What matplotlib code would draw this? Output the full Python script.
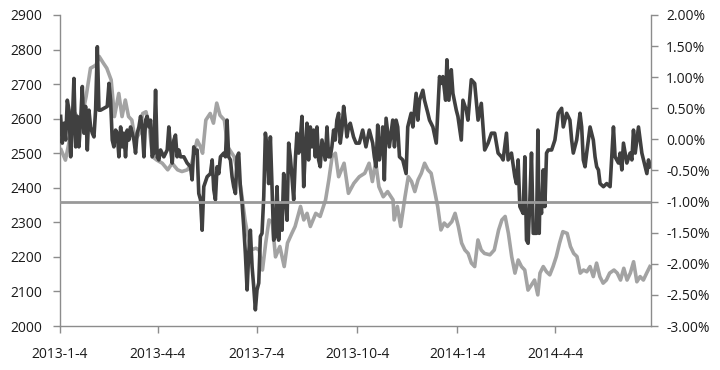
import matplotlib
matplotlib.use("Agg")
import matplotlib.pyplot as plt
import matplotlib.dates as mdates
from matplotlib.ticker import FuncFormatter, MultipleLocator
import numpy as np
import pandas as pd

START = "2013-01-04"

# Light gray series (left axis, index level): days since 2013-01-04, value
index_days = [1, 5, 10, 14, 19, 24, 28, 33, 36, 40, 43, 47, 50, 54, 57, 60, 63, 66, 69, 73,
              76, 79, 82, 85, 89, 94, 99, 103, 108, 112, 117, 121, 126, 129, 131, 134, 138, 141,
              144, 147, 151, 154, 160, 166, 170, 175, 180, 183, 186, 189, 192, 195, 198, 202,
              206, 209, 213, 216, 221, 224, 227, 230, 235, 239, 244, 247, 250, 253, 256, 261,
              265, 270, 275, 280, 284, 287, 290, 293, 297, 301, 306, 307, 310, 313, 317, 320,
              323, 326, 329, 332, 335, 338, 341, 344, 347, 350, 353, 356, 360, 363, 366, 369,
              372, 375, 378, 381, 384, 387, 390, 395, 399, 403, 406, 409, 412, 415, 418, 421,
              424, 427, 430, 433, 436, 439, 441, 444, 447, 450, 453, 456, 459, 462, 466, 469,
              472, 475, 478, 481, 484, 487, 490, 493, 496, 499, 502, 505, 509, 512, 515, 518,
              521, 524, 527, 530, 533, 536, 539, 542]
index_vals = [2510, 2480, 2558, 2615, 2587, 2664, 2746, 2755, 2780, 2760, 2746, 2712, 2606, 2673,
              2606, 2654, 2606, 2596, 2538, 2558, 2615, 2620, 2577, 2490, 2480, 2471, 2452, 2471,
              2452, 2447, 2452, 2471, 2538, 2519, 2500, 2596, 2615, 2587, 2645, 2610, 2596, 2519,
              2490, 2403, 2307, 2220, 2225, 2220, 2162, 2240, 2307, 2300, 2200, 2230, 2172, 2240,
              2268, 2288, 2346, 2307, 2326, 2288, 2326, 2317, 2365, 2423, 2490, 2500, 2432, 2471,
              2384, 2413, 2432, 2442, 2471, 2418, 2476, 2403, 2374, 2389, 2365, 2307, 2346, 2288,
              2374, 2432, 2418, 2389, 2423, 2442, 2471, 2452, 2442, 2394, 2346, 2278, 2298, 2288,
              2302, 2326, 2288, 2240, 2220, 2210, 2182, 2172, 2249, 2220, 2210, 2206, 2220, 2278,
              2307, 2317, 2268, 2201, 2153, 2191, 2172, 2162, 2104, 2118, 2133, 2090, 2153, 2172,
              2157, 2148, 2172, 2201, 2240, 2273, 2268, 2230, 2210, 2201, 2153, 2162, 2157, 2172,
              2143, 2182, 2143, 2124, 2133, 2153, 2162, 2153, 2133, 2167, 2133, 2153, 2186, 2128,
              2143, 2133, 2153, 2172]

# Dark series (right axis, percent): days since 2013-01-04, value in %
spread_days = [0.6, 2.1, 3.7, 5.2, 6.7, 8.3, 9.8, 11.3, 12.8, 14.4, 15.9, 17.4, 19.0, 20.5, 22.0,
               23.5, 25.1, 26.6, 28.1, 29.7, 31.2, 32.7, 34.3, 35.8, 37.3, 40.4, 43.4, 45.0, 46.5,
               48.0, 49.5, 51.1, 52.6, 54.1, 55.7, 57.2, 58.7, 60.2, 61.8, 63.3, 64.8, 66.4, 67.9,
               69.4, 70.9, 72.5, 74.0, 75.5, 77.1, 78.6, 80.1, 81.7, 83.2, 84.7, 86.2, 87.8, 89.3,
               90.8, 92.4, 95.4, 98.5, 100.0, 101.5, 103.1, 104.6, 106.1, 107.6, 109.2, 110.7,
               113.8, 116.8, 119.9, 121.4, 122.9, 124.5, 126.0, 127.5, 129.1, 130.6, 132.1, 135.2,
               138.2, 139.8, 141.3, 142.8, 144.3, 145.9, 147.4, 150.5, 152.0, 153.5, 155.0, 156.6,
               158.1, 159.6, 161.2, 162.7, 164.2, 165.7, 167.3, 168.8, 170.3, 171.9, 173.4, 174.9,
               176.5, 178.0, 179.5, 181.0, 182.6, 184.1, 185.6, 187.2, 188.7, 190.2, 191.7, 193.3,
               194.8, 196.3, 197.9, 199.4, 200.9, 202.4, 204.0, 205.5, 207.0, 208.6, 210.1, 211.6,
               213.1, 214.7, 216.2, 217.7, 219.3, 220.8, 222.3, 223.9, 225.4, 226.9, 228.4, 230.0,
               231.5, 233.0, 234.6, 236.1, 237.6, 239.1, 240.7, 242.2, 243.7, 245.3, 246.8, 248.3,
               249.8, 251.4, 252.9, 254.4, 256.0, 257.5, 259.0, 260.6, 262.1, 263.6, 265.1, 266.7,
               269.7, 272.0,
               275.0, 278.1, 281.1, 284.2, 287.3, 288.8, 290.4, 291.9, 293.4, 295.0, 296.5, 298.0,
               299.6, 302.6, 305.7, 307.3, 308.8, 310.3, 311.9, 314.9, 318.0, 319.5, 322.6, 324.2,
               327.2, 328.8, 330.3, 333.4, 334.9, 338.0, 339.5, 342.6, 345.7, 347.2, 348.7, 350.3,
               351.8, 354.3, 355.5, 357.3, 359.5, 361.0, 364.1, 365.6, 368.7, 370.2, 373.3, 374.8,
               377.9, 381.0, 384.1, 387.1, 390.2, 393.3, 396.4, 399.4, 402.5, 405.6, 407.1, 410.2,
               411.7, 414.8, 417.9, 419.4, 420.9, 422.5, 425.5, 427.1, 428.6, 430.1, 431.7, 433.2,
               434.8, 437.8, 439.1, 440.3, 440.9, 442.4, 444.0, 445.5, 447.0, 448.6, 451.7, 454.7,
               456.3, 457.8, 460.9, 462.4, 465.5, 468.5, 470.1, 471.6, 474.7, 477.8, 479.3, 480.8,
               482.4, 483.9, 487.0, 490.0, 491.6, 493.1, 494.7, 496.2, 499.3, 502.3, 505.4, 507.0,
               508.5, 510.0, 513.1, 514.6, 516.2, 517.7, 520.8, 523.8, 525.4, 526.9, 528.5, 531.5,
               534.6, 537.7, 539.2, 540.7, 542.3]
spread_vals = [0.37, -0.06, 0.26, -0.01, 0.63, 0.47, -0.28, 0.26, 0.98, -0.12, 0.37, -0.12, 0.31,
               0.85, 0.10, 0.53, -0.17, 0.47, 0.20, 0.10, 0.04, 0.47, 1.49, 0.47, 0.47, 0.50, 0.53,
               0.90, 0.63, -0.01, -0.12, 0.15, 0.10, -0.28, 0.20, -0.12, 0.10, -0.28, 0.15, -0.01,
               0.20, 0.10, -0.01, -0.22, 0.10, 0.20, 0.37, 0.20, -0.28, 0.31, 0.37, 0.20, 0.31,
               -0.28, -0.22, 0.79, -0.28, -0.33, -0.17, -0.28, -0.17, 0.20, -0.12, -0.38, -0.01,
               0.07, -0.28, -0.17, -0.28, -0.28, -0.38, -0.44, -0.65, -0.12, -0.22, -0.17, -0.87,
               -0.97, -1.46, -0.76, -0.60, -0.55, -0.33, -0.81, -0.97, -0.44, -0.55, -0.28, -0.22,
               -0.28, 0.31, -0.28, -0.33, -0.60, -0.76, -0.87, -0.28, -0.22, -0.76, -1.03, -1.40,
               -1.83, -2.42, -1.83, -1.46, -2.05, -2.37, -2.74, -2.42, -2.31, -1.56, -1.51, -0.92,
               0.10, -0.12, -0.71, 0.04, -0.76, -1.62, -1.56, -0.76, -1.62, -1.03, -1.46, -0.55,
               -0.87, -1.30, -0.06, -0.28, -0.60, -0.97, -0.33, 0.10, -0.22, -0.01, 0.37, -0.76,
               -0.17, 0.26, -0.33, 0.20, -0.12, 0.15, -0.28, 0.20, -0.33, -0.44, -0.01, -0.17,
               -0.33, 0.20, -0.28, -0.28, -0.12, 0.15, -0.01, 0.31, 0.42, -0.06, 0.15, 0.53, 0.31,
               0.04, 0.20, 0.26, 0.04, -0.06,
               -0.06, 0.15, -0.12, 0.15, -0.06, -0.28, -0.44, 0.23, -0.33, -0.12, 0.20, -0.65,
               0.34, -0.12, 0.31, -0.12, 0.31, 0.20, -0.28, -0.33, -0.55, 0.20, 0.42, 0.20,
               0.74, 0.31, 0.63, 0.79, 0.63, 0.42, 0.31, 0.20, -0.06, 0.47, 1.01, 0.90,
               1.01, 0.63, 1.28, 0.63, 1.12, 0.74, 0.47, 0.37, -0.01, 0.63, 0.47, 0.31,
               0.96, 0.90, 0.31, 0.58, -0.17, -0.06, 0.10, 0.10, -0.22, -0.28, -0.33, 0.10,
               -0.33, -0.22, -0.60, -0.71, -0.33, -1.08, -1.19, -0.28, -1.62, -1.67, -0.97, -0.22,
               -1.51, -1.51, 0.15, -1.51, -0.97, -1.19, -0.49, -1.08, -0.22, -0.17, -0.17, -0.01,
               0.20, 0.42, 0.50, 0.20, 0.42, 0.31, -0.01, -0.22, -0.01, 0.42, 0.20, -0.33,
               -0.44, -0.22, 0.20, -0.01, -0.28, -0.44, -0.49, -0.71, -0.76, -0.71, -0.76, -0.28,
               0.20, -0.28, -0.38, -0.22, -0.49, -0.06, -0.38, -0.22, -0.33, 0.15, -0.22, 0.20,
               -0.22, -0.44, -0.55, -0.33, -0.44]

threshold_pct = -1.00
x_tick_dates = ["2013-01-04", "2013-04-04", "2013-07-04", "2013-10-04", "2014-01-04", "2014-04-04"]
x_tick_labels = ["2013-1-4", "2013-4-4", "2013-7-4", "2013-10-4", "2014-1-4", "2014-4-4"]
x_end = "2014-07-01"

plt.rcParams['font.family'] = ['Open Sans', 'DejaVu Sans']

start = pd.Timestamp(START)
idx_x = start + pd.to_timedelta(index_days, unit='D')
spr_x = start + pd.to_timedelta(spread_days, unit='D')

fig = plt.figure(figsize=(7.2, 3.7), dpi=100)
ax = fig.add_axes([60/720, 1-326/370, (651-60)/720, (326-15)/370])
ax2 = ax.twinx()

light = '#a3a3a3'
dark = '#404040'
axis_col = '#8c8c8c'

ax.plot(idx_x, index_vals, color=light, lw=2.6, solid_joinstyle='round', zorder=2)
ax2.plot(spr_x, spread_vals, color=dark, lw=2.6, solid_joinstyle='round', zorder=2)
ax2.axhline(threshold_pct, color='#999999', lw=2.0, zorder=3)

ax.set_ylim(2000, 2900)
ax.yaxis.set_major_locator(MultipleLocator(100))
ax2.set_ylim(-3, 2)
ax2.yaxis.set_major_locator(MultipleLocator(0.5))
ax2.yaxis.set_major_formatter(FuncFormatter(lambda v, p: f"{v:.2f}%"))

ax.set_xlim(start, pd.Timestamp(x_end))
ax.set_xticks(pd.to_datetime(x_tick_dates))
ax.set_xticklabels(x_tick_labels)

for a in (ax, ax2):
    a.spines['top'].set_visible(False)
    for s in a.spines.values():
        s.set_color(axis_col)
        s.set_linewidth(1.0)
ax.spines['right'].set_visible(False)
ax2.spines['left'].set_visible(False)
ax2.spines['bottom'].set_visible(False)

fs = 10
ax.tick_params(axis='y', direction='out', length=5, width=1, color=axis_col, pad=8,
               labelsize=fs, labelcolor='#1a1a1a')
ax.tick_params(axis='x', direction='out', length=5, width=1, color=axis_col, pad=10,
               labelsize=fs, labelcolor='#1a1a1a')
ax2.tick_params(axis='y', direction='out', length=5, width=1, color=axis_col, pad=6,
                labelsize=fs, labelcolor='#1a1a1a')

fig.savefig('out.png', dpi=100)
